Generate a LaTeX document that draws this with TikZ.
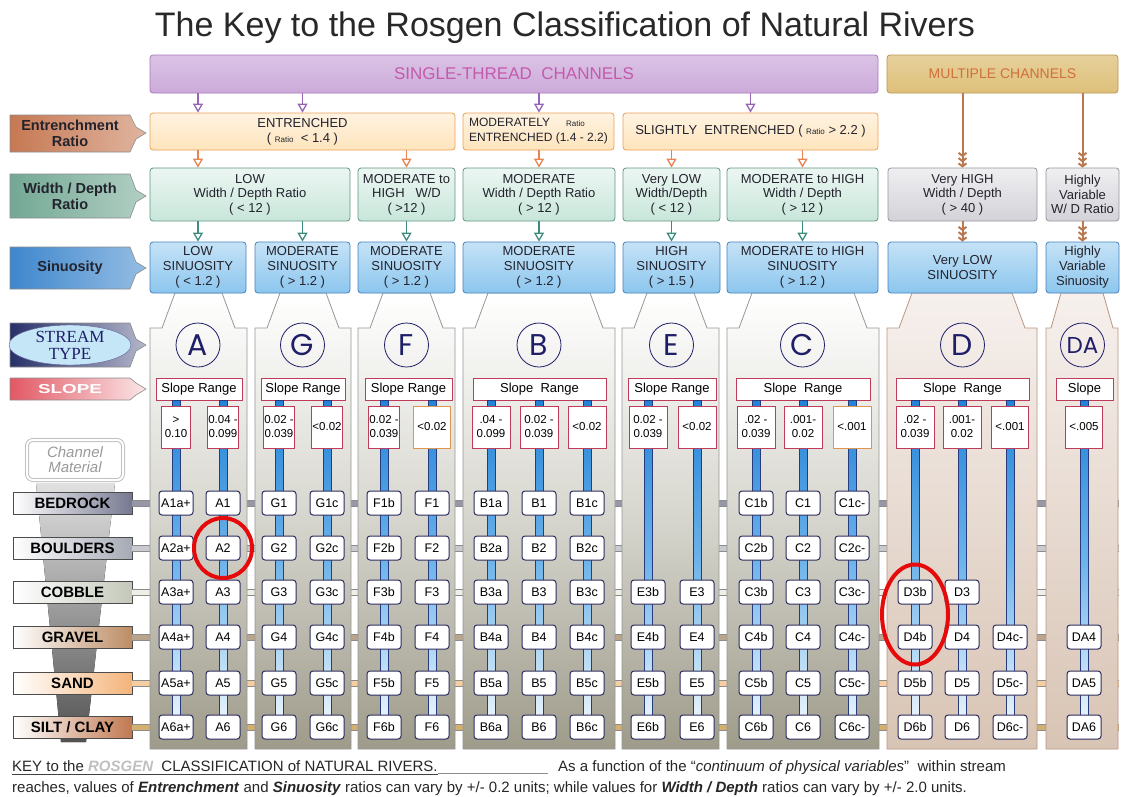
\documentclass[tikz,border=0pt]{standalone}
\usepackage{fontspec}
\setmainfont{Liberation Sans}
\newfontfamily\serifft{Liberation Serif}
\newfontfamily\gothic{Poppins}
\newfontfamily\widefont[FakeStretch=1.45]{Liberation Sans}
\usetikzlibrary{arrows.meta,calc,shapes.geometric}

\definecolor{titleC}{RGB}{40,40,40}
\definecolor{txtC}{RGB}{35,35,45}
\definecolor{singleF}{RGB}{204,170,218}
\definecolor{singleD}{RGB}{165,120,190}
\definecolor{singleT}{RGB}{196,90,172}
\definecolor{multiF}{RGB}{222,192,122}
\definecolor{multiD}{RGB}{185,150,85}
\definecolor{multiT}{RGB}{208,112,58}
\definecolor{entF}{RGB}{254,228,188}
\definecolor{entD}{RGB}{236,160,90}
\definecolor{wdF}{RGB}{200,230,218}
\definecolor{wdD}{RGB}{95,150,130}
\definecolor{greyF}{RGB}{210,210,216}
\definecolor{greyD}{RGB}{150,150,158}
\definecolor{sinF}{RGB}{140,198,238}
\definecolor{sinD}{RGB}{70,130,190}
\definecolor{purpA}{RGB}{150,100,180}
\definecolor{orA}{RGB}{232,130,80}
\definecolor{tealA}{RGB}{60,140,125}
\definecolor{brownA}{RGB}{185,120,80}
\definecolor{entL}{RGB}{198,120,82}
\definecolor{wdL}{RGB}{115,168,148}
\definecolor{sinL}{RGB}{62,135,205}
\definecolor{typeL}{RGB}{40,48,105}
\definecolor{typeE}{RGB}{196,230,246}
\definecolor{slopeL}{RGB}{226,88,100}
\definecolor{navy}{RGB}{30,30,105}
\definecolor{slopeD}{RGB}{190,60,90}
\definecolor{slopeO}{RGB}{220,150,80}
\definecolor{panelB}{RGB}{158,155,138}
\definecolor{panelM}{RGB}{214,213,205}
\definecolor{panelD}{RGB}{150,150,150}
\definecolor{braidT}{RGB}{246,240,237}
\definecolor{braidB}{RGB}{216,196,180}
\definecolor{braidD}{RGB}{185,150,130}
\definecolor{barT}{RGB}{35,130,215}
\definecolor{barM}{RGB}{110,180,235}
\definecolor{barB}{RGB}{238,246,252}
\definecolor{barD}{RGB}{40,60,125}
\definecolor{cellD}{RGB}{45,45,95}
\definecolor{ringR}{RGB}{230,10,10}
\definecolor{bedL}{RGB}{118,120,145}
\definecolor{bedN}{RGB}{150,152,168}
\definecolor{bouL}{RGB}{165,170,180}
\definecolor{bouN}{RGB}{200,202,208}
\definecolor{cobL}{RGB}{195,200,186}
\definecolor{cobN}{RGB}{238,240,232}
\definecolor{graL}{RGB}{188,140,100}
\definecolor{graN}{RGB}{185,165,140}
\definecolor{sanL}{RGB}{244,180,122}
\definecolor{sanN}{RGB}{246,206,162}
\definecolor{silL}{RGB}{192,120,80}
\definecolor{silN}{RGB}{212,176,112}

% house-shaped panel of one stream type: left, right, neck insets, style
\newcommand{\streampanel}[5]{%
  \path[#5] (#1,749) -- (#1,328) -- (#1+#4,328) -- (#1+#3,293) -- (#2-#3,293)
    -- (#2-#4,328) -- (#2,328) -- (#2,749) -- cycle;}
% tab-shaped label on the left: top, bottom, middle, style
\newcommand{\sidetab}[4]{%
  \path[#4] (10,#1) -- (130,#1) -- (136,#3-6) -- (146,#3) -- (136,#3+6)
    -- (130,#2) -- (10,#2) -- cycle;}
\newcommand{\ratiotxt}{{\fontsize{8}{9}\selectfont Ratio}}

\begin{document}
\begin{tikzpicture}[x=1pt,y=-1pt,
    box/.style={rounded corners=3pt, line width=0.8pt, align=center, inner sep=0pt, text=txtC},
    topbox/.style={box, minimum height=38pt},
    ent/.style={box, draw=entD, top color=entF!45, bottom color=entF, minimum height=37pt, font=\fontsize{13}{15}\selectfont},
    wd/.style={box, draw=wdD, top color=wdF!35, bottom color=wdF, minimum height=53pt, font=\fontsize{13}{14.5}\selectfont},
    wdgrey/.style={wd, draw=greyD, top color=greyF!35, bottom color=greyF},
    sin/.style={box, draw=sinD, top color=sinF!50, bottom color=sinF, minimum height=51pt, font=\fontsize{13}{15}\selectfont},
    panel/.style={draw=panelD, line width=0.8pt, top color=white, bottom color=panelB, middle color=panelM},
    braid/.style={draw=braidD, line width=0.8pt, top color=braidT, bottom color=braidB},
    tab/.style={draw=black!45, line width=0.6pt},
    tabtext/.style={align=center, inner sep=0pt, text=txtC, font=\bfseries\fontsize{14.5}{16}\selectfont},
    mat/.style={draw=black!70, line width=0.8pt, minimum width=119pt, minimum height=22pt, inner sep=0pt, left color=white, font=\bfseries\fontsize{15}{15}\selectfont},
    matline/.style={draw=black!45, line width=1pt, double=#1, double distance=5pt},
    typeletter/.style={circle, draw=navy, line width=0.8pt, minimum size=44pt, inner sep=0pt, text=navy, font=\gothic\fontsize{30}{30}\selectfont},
    slopebox/.style={draw=slopeD, fill=white, line width=0.9pt, minimum height=22pt, inner sep=0pt, font=\fontsize{13}{13}\selectfont},
    slopeval/.style={fill=white, line width=0.9pt, minimum height=42pt, inner sep=1pt, align=center, font=\fontsize{11.5}{14}\selectfont},
    bar/.style={draw=barD, line width=0.6pt, top color=barT, bottom color=barB, middle color=barM},
    cell/.style={draw=cellD, fill=white, line width=1pt, rounded corners=3pt, minimum width=34pt, minimum height=24pt, inner sep=0pt, font=\fontsize{12.5}{12.5}\selectfont},
    ring/.style={draw=ringR, line width=4pt, ellipse, inner sep=0pt},
    hollow/.style={-{Triangle[open,length=9pt,width=10pt]}, line width=1.3pt},
    feather/.style={-{Straight Barb[length=3pt,width=8pt] Straight Barb[length=3pt,width=8pt] Straight Barb[length=3pt,width=8pt]}, draw=brownA, line width=2pt},
    keytext/.style={anchor=base west, inner sep=0pt, text=black!85, font=\fontsize{15}{15}\selectfont}
]
\useasboundingbox (0,0) rectangle (1121,796);

\node[anchor=base, text=titleC, font=\fontsize{34}{36}\selectfont] (title) at (565,36) {The Key to the Rosgen Classification of Natural Rivers};

% channel groups
\node[topbox, draw=singleD, top color=singleF!70, bottom color=singleF, minimum width=728pt, text=singleT, font=\fontsize{17}{17}\selectfont] (single) at (514,74) {SINGLE-THREAD\ \ CHANNELS};
\node[topbox, draw=multiD, top color=multiF!75, bottom color=multiF, minimum width=231pt, text=multiT, font=\fontsize{14}{14}\selectfont] (multi) at (1002.5,74) {MULTIPLE CHANNELS};

% left side labels
\sidetab{115}{152}{133}{tab, left color=entL, right color=entL!55}
\node[tabtext] (lblEnt) at (70,133) {Entrenchment\\Ratio};
\sidetab{174}{218}{196}{tab, left color=wdL, right color=wdL!55}
\node[tabtext] (lblWd) at (70,196) {Width / Depth\\Ratio};
\sidetab{247}{289}{268}{tab, left color=sinL, right color=sinL!55}
\node[tabtext] (lblSin) at (70,268) {Sinuosity};
\sidetab{323}{367}{345}{tab, left color=typeL, right color=typeL!35}
\node[ellipse, draw=navy!70, fill=typeE, minimum width=122pt, minimum height=40pt, inner sep=0pt, align=center, text=navy, font=\serifft\fontsize{17}{17}\selectfont] (lblType) at (70,345) {STREAM\\TYPE};
\sidetab{378}{400}{389}{tab, left color=slopeL, right color=slopeL!15}
\node[text=white, font=\widefont\bfseries\fontsize{13}{13}\selectfont] (lblSlope) at (70,389) {SLOPE};

% channel material funnel and rows
\fill[top color=black!12, bottom color=black!68] (36,483) -- (115,483) -- (86,742) -- (61,742) -- cycle;
\node[draw=black!25, double=white, double distance=2pt, line width=1pt, rounded corners=6pt, minimum width=96pt, minimum height=40pt, inner sep=0pt, align=center, text=black!40, font=\itshape\fontsize{15}{15}\selectfont] (lblMat) at (75,460) {Channel\\Material};
\node[mat, right color=bedL] (mBed) at (72.5,503) {BEDROCK};
\node[mat, right color=bouL] (mBou) at (72.5,548) {BOULDERS};
\node[mat, right color=cobL] (mCob) at (72.5,592) {COBBLE};
\node[mat, right color=graL] (mGra) at (72.5,637) {GRAVEL};
\node[mat, right color=sanL] (mSan) at (72.5,683) {SAND};
\node[mat, right color=silL] (mSil) at (72.5,727) {SILT / CLAY};
\foreach \m/\c in {mBed/bedN, mBou/bouN, mCob/cobN, mGra/graN, mSan/sanN, mSil/silN}
  \draw[matline=\c] (\m.east) -- (\m.east -| 1119,0);

% stream type panels
\streampanel{150}{247}{25}{12}{panel}
\streampanel{255}{351}{25}{12}{panel}
\streampanel{358}{455}{25}{12}{panel}
\streampanel{463}{615}{25}{12}{panel}
\streampanel{622}{719}{25}{12}{panel}
\streampanel{727}{879}{25}{12}{panel}
\streampanel{887}{1037}{25}{12}{braid}
\streampanel{1046}{1118}{15}{5}{braid}

% entrenchment
\node[ent, minimum width=305pt] (entA) at (302.5,131.5) {ENTRENCHED\\( \ratiotxt\ \ < 1.4 )};
\node[ent, minimum width=151pt, align=left, font=\fontsize{12}{15}\selectfont] (entM) at (538.5,131.5) {MODERATELY\hspace{16pt}\ratiotxt\\ENTRENCHED (1.4 - 2.2)};
\node[ent, minimum width=255pt] (entS) at (750.5,131.5) {SLIGHTLY\ \ ENTRENCHED ( \ratiotxt\ > 2.2 )};

% width / depth
\node[wd, minimum width=200pt] (wdLow) at (250,194.5) {LOW\\Width / Depth Ratio\\( < 12 )};
\node[wd, minimum width=97pt] (wdMH) at (406.5,194.5) {MODERATE to\\HIGH\ \ \ W/D\\( >12 )};
\node[wd, minimum width=152pt] (wdMod) at (539,194.5) {MODERATE\\Width / Depth Ratio\\( > 12 )};
\node[wd, minimum width=97pt] (wdVL) at (671.5,194.5) {Very LOW\\Width/Depth\\( < 12 )};
\node[wd, minimum width=151pt] (wdMH2) at (802.5,194.5) {MODERATE to HIGH\\Width / Depth\\( > 12 )};
\node[wdgrey, minimum width=149pt] (wdVH) at (962.5,194.5) {Very HIGH\\Width / Depth\\( > 40 )};
\node[wdgrey, minimum width=73pt] (wdHV) at (1082.5,194.5) {Highly\\Variable\\W/ D Ratio};

% sinuosity
\node[sin, minimum width=96pt] (sinA) at (198,267.5) {LOW\\SINUOSITY\\( < 1.2 )};
\node[sin, minimum width=95pt] (sinG) at (302.5,267.5) {MODERATE\\SINUOSITY\\( > 1.2 )};
\node[sin, minimum width=97pt] (sinF) at (406.5,267.5) {MODERATE\\SINUOSITY\\( > 1.2 )};
\node[sin, minimum width=152pt] (sinB) at (539,267.5) {MODERATE\\SINUOSITY\\( > 1.2 )};
\node[sin, minimum width=97pt] (sinE) at (671.5,267.5) {HIGH\\SINUOSITY\\( > 1.5 )};
\node[sin, minimum width=151pt] (sinC) at (802.5,267.5) {MODERATE to HIGH\\SINUOSITY\\( > 1.2 )};
\node[sin, minimum width=149pt] (sinD) at (962.5,267.5) {Very LOW\\SINUOSITY};
\node[sin, minimum width=73pt] (sinDA) at (1082.5,267.5) {Highly\\Variable\\Sinuosity};

% arrows between levels
\foreach \s in {sinA,sinG,sinB}
  \draw[hollow, purpA] (single.south -| \s) -- (\s |- entA.north);
\draw[hollow, purpA] (single.south -| entS) -- (entS.north);
\foreach \s in {sinA,sinF,sinB,sinE,sinC}
  \draw[hollow, orA] (\s |- entA.south) -- (\s |- wdLow.north);
\foreach \s in {sinA,sinG,sinF,sinB,sinE,sinC}
  \draw[hollow, tealA] (\s |- wdLow.south) -- (\s.north);
\draw[feather] (multi.south -| wdVH) -- (wdVH.north);
\draw[feather] (multi.south -| wdHV) -- (wdHV.north);
\draw[feather] (wdVH.south) -- (sinD.north);
\draw[feather] (wdHV.south) -- (sinDA.north);

% stream types
\node[typeletter] (tA) at (sinA |- 0,345) {A};
\node[typeletter] (tG) at (sinG |- 0,345) {G};
\node[typeletter] (tF) at (sinF |- 0,345) {F};
\node[typeletter] (tB) at (sinB |- 0,345) {B};
\node[typeletter] (tE) at (sinE |- 0,345) {E};
\node[typeletter] (tC) at (sinC |- 0,345) {C};
\node[typeletter] (tD) at (sinD |- 0,345) {D};
\node[typeletter, font=\gothic\fontsize{23}{23}\selectfont] (tDA) at (sinDA |- 0,345) {DA};

% slope ranges
\node[slopebox, minimum width=86pt] (srA) at (199,389) {Slope Range};
\node[slopebox, minimum width=84pt] (srG) at (303,389) {Slope Range};
\node[slopebox, minimum width=87pt] (srF) at (408.5,389) {Slope Range};
\node[slopebox, minimum width=133pt] (srB) at (539.5,389) {Slope\ \ Range};
\node[slopebox, minimum width=88pt] (srE) at (672,389) {Slope Range};
\node[slopebox, minimum width=134pt] (srC) at (803,389) {Slope\ \ Range};
\node[slopebox, minimum width=133pt] (srD) at (962.5,389) {Slope\ \ Range};
\node[slopebox, minimum width=57pt] (srDA) at (1084.5,389) {Slope};

% columns: x / box width / slope / first row / type / suffix / border
\foreach \cx/\bw/\txt/\first/\pre/\suf/\bc [count=\ci] in {
    176/29/{>\\0.10}/1/A/a+/slopeD,
    223/30/{0.04 -\\0.099}/1/A/{}/slopeD,
    279/30/{0.02 -\\0.039}/1/G/{}/slopeD,
    327/30/{<0.02}/1/G/c/slopeD,
    384/30/{0.02 -\\0.039}/1/F/b/slopeD,
    432/37/{<0.02}/1/F/{}/slopeO,
    491/38/{.04 -\\0.099}/1/B/a/slopeD,
    539/38/{0.02 -\\0.039}/1/B/{}/slopeD,
    587/38/{<0.02}/1/B/c/slopeD,
    648/38/{0.02 -\\0.039}/3/E/b/slopeD,
    697/38/{<0.02}/3/E/{}/slopeD,
    756/38/{.02 -\\0.039}/1/C/b/slopeD,
    803/38/{.001-\\0.02}/1/C/{}/slopeD,
    852/38/{<.001}/1/C/{c-}/slopeO,
    915/38/{.02 -\\0.039}/3/D/b/slopeD,
    962/38/{.001-\\0.02}/3/D/{}/slopeD,
    1010/37/{<.001}/4/D/{c-}/slopeD,
    1084/37/{<.005}/4/DA/{}/slopeD}
{
  \path[bar] (\cx-4,400) rectangle (\cx+4,727);
  \node[slopeval, minimum width=\bw pt, draw=\bc] (sv\ci) at (\cx,427) {\txt};
  \foreach \r/\ry in {1/503,2/548,3/592,4/637,5/683,6/727}{
    \ifnum\r<\first\else
      \node[cell] (c\ci r\r) at (\cx,\ry) {\pre\r\suf};
    \fi
  }
}

% highlighted types
\node[ring, minimum width=58pt, minimum height=60pt] (ringA) at (c2r2) {};
\node[ring, minimum width=66pt, minimum height=100pt] (ringD) at ($(c15r3)!0.5!(c15r4)$) {};

% key
\node[keytext] (keyA) at (12,771) {KEY to the {\color{black!25}\itshape\bfseries ROSGEN}\ \ CLASSIFICATION of NATURAL RIVERS.};
\draw[black!75, line width=0.9pt] ([yshift=-3pt]keyA.base west) -- ([yshift=-3pt]keyA.base east);
\draw[black!45, line width=0.7pt, double=white, double distance=1pt] ([yshift=-3pt]keyA.base east) -- ++(110,0);
\node[keytext] (keyB) at (558,771) {As a function of the ``\textit{continuum of physical variables}''\ \ within stream};
\node[keytext] (keyC) at (12,792) {reaches, values of \textbf{\textit{Entrenchment}} and \textbf{\textit{Sinuosity}} ratios can vary by +/- 0.2 units; while values for \textbf{\textit{Width / Depth}} ratios can vary by +/- 2.0 units.};
\end{tikzpicture}
\end{document}
